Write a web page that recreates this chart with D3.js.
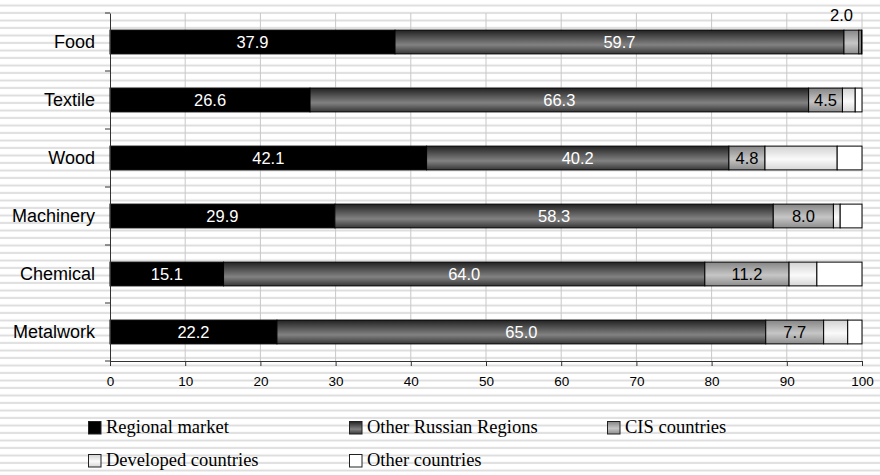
<!DOCTYPE html>
<html>
<head>
<meta charset="utf-8">
<script src="https://cdn.jsdelivr.net/npm/d3@7"></script>
<style>
  body { margin: 0; background: #fff; }
  svg { display: block; }
</style>
</head>
<body>
<div id="chart"></div>
<script>
// ---- data ----
const categories = ["Food", "Textile", "Wood", "Machinery", "Chemical", "Metalwork"];
const seriesNames = ["Regional market", "Other Russian Regions", "CIS countries", "Developed countries", "Other countries"];
const regional   = [37.9, 26.6, 42.1, 29.9, 15.1, 22.2];
const otherRus   = [59.7, 66.3, 40.2, 58.3, 64.0, 65.0];
const cis        = [2.0, 4.5, 4.8, 8.0, 11.2, 7.7];
const developed  = [0.3, 1.7, 9.6, 0.9, 3.7, 3.2];
const otherCtry  = [0.1, 0.9, 3.3, 2.9, 6.0, 1.9];
const xTicks = [0, 10, 20, 30, 40, 50, 60, 70, 80, 90, 100];

const W = 880, H = 475;
const margin = { top: 13, right: 18, bottom: 114, left: 110 };
const innerW = W - margin.left - margin.right;
const innerH = H - margin.top - margin.bottom;
const sans = "'Liberation Sans', Arial, sans-serif";

const svg = d3.select("#chart").append("svg")
  .attr("width", W)
  .attr("height", H);

const defs = svg.append("defs");

// striped background
const stripes = defs.append("pattern")
  .attr("id", "bg-stripes")
  .attr("patternUnits", "userSpaceOnUse")
  .attr("width", W)
  .attr("height", 7.5);
stripes.append("rect").attr("width", W).attr("height", 7.5).attr("fill", "#fff");
stripes.append("rect").attr("y", 4.5).attr("width", W).attr("height", 1.9).attr("fill", "#dcdcdc");

svg.append("rect").attr("width", W).attr("height", H).attr("fill", "url(#bg-stripes)");

// vertical gradients for the bar fills
function gradient(id, stops) {
  const g = defs.append("linearGradient")
    .attr("id", id)
    .attr("x1", 0).attr("y1", 0).attr("x2", 0).attr("y2", 1);
  stops.forEach(s => g.append("stop").attr("offset", s[0]).attr("stop-color", s[1]));
}
gradient("g-rus", [[0, "#222"], [0.62, "#828282"], [1, "#363636"]]);
gradient("g-cis", [[0, "#858585"], [0.55, "#c6c6c6"], [1, "#8c8c8c"]]);
gradient("g-dev", [[0, "#d2d2d2"], [0.55, "#fafafa"], [1, "#d6d6d6"]]);

const fills = ["#000", "url(#g-rus)", "url(#g-cis)", "url(#g-dev)", "#fff"];
const labelColors = ["#fff", "#fff", "#000", null, null];

const g = svg.append("g").attr("transform", `translate(${margin.left},${margin.top})`);

const x = d3.scaleLinear().domain([0, 100]).range([0, innerW]);
const y = d3.scaleBand().domain(categories).range([0, innerH]).padding(0);
const barH = y.bandwidth() * 0.41;

// gridlines
g.append("g")
  .selectAll("line")
  .data(xTicks.slice(1))
  .join("line")
  .attr("x1", d => x(d)).attr("x2", d => x(d))
  .attr("y1", 0).attr("y2", innerH)
  .attr("stroke", "#c8c8c8")
  .attr("stroke-width", 1);

// stacked data
const table = categories.map((c, i) => ({
  cat: c,
  values: [regional[i], otherRus[i], cis[i], developed[i], otherCtry[i]]
}));

table.forEach(row => {
  let cum = 0;
  const by = y(row.cat) + (y.bandwidth() - barH) / 2;
  row.values.forEach((v, k) => {
    const x0 = x(cum), x1 = x(cum + v);
    g.append("rect")
      .attr("x", x0)
      .attr("y", by)
      .attr("width", Math.max(0, x1 - x0))
      .attr("height", barH)
      .attr("fill", fills[k])
      .attr("stroke", "#000")
      .attr("stroke-width", 1);
    cum += v;
  });

  // value labels
  cum = 0;
  row.values.forEach((v, k) => {
    const x0 = x(cum), x1 = x(cum + v);
    cum += v;
    if (!labelColors[k]) return;
    if (x1 - x0 < 25) {
      // too narrow: put label above the bar
      g.append("text")
        .attr("x", x1 - 6)
        .attr("y", by - 9)
        .attr("text-anchor", "end")
        .attr("font-family", sans)
        .attr("font-size", "16.5px")
        .attr("fill", "#000")
        .text(v.toFixed(1));
      return;
    }
    g.append("text")
      .attr("x", (x0 + x1) / 2)
      .attr("y", by + barH / 2)
      .attr("dy", "0.36em")
      .attr("text-anchor", "middle")
      .attr("font-family", sans)
      .attr("font-size", "16.5px")
      .attr("fill", labelColors[k])
      .text(v.toFixed(1));
  });
});

// y axis
const yAxis = g.append("g")
  .call(d3.axisLeft(y).tickSize(0).tickPadding(15));
yAxis.select(".domain").attr("stroke", "#333");
yAxis.selectAll("text")
  .attr("font-family", sans)
  .attr("font-size", "18px")
  .attr("fill", "#000");
// Excel-style ticks on category boundaries
g.append("g")
  .selectAll("line")
  .data(categories.map(c => y(c)).concat([innerH]))
  .join("line")
  .attr("x1", -5).attr("x2", 0)
  .attr("y1", d => d).attr("y2", d => d)
  .attr("stroke", "#333");

// x axis
const xAxis = g.append("g")
  .attr("transform", `translate(0,${innerH})`)
  .call(d3.axisBottom(x).tickValues(xTicks).tickSize(5).tickPadding(10).tickFormat(d3.format("d")));
xAxis.select(".domain").attr("stroke", "#333");
xAxis.selectAll(".tick line").attr("stroke", "#333");
xAxis.selectAll("text")
  .attr("font-family", sans)
  .attr("font-size", "13.5px")
  .attr("fill", "#000");

// legend
const legendCols = [88, 349, 607];
const legendRows = [421, 454];
const legend = svg.append("g");
seriesNames.forEach((name, i) => {
  const lx = legendCols[i % 3], ly = legendRows[Math.floor(i / 3)];
  legend.append("rect")
    .attr("x", lx + 0.5).attr("y", ly + 0.5)
    .attr("width", 12.5).attr("height", 12.5)
    .attr("fill", fills[i])
    .attr("stroke", "#222")
    .attr("stroke-width", 1);
  legend.append("text")
    .attr("x", lx + 18)
    .attr("y", ly + 12)
    .attr("font-family", "'Liberation Serif', 'Times New Roman', serif")
    .attr("font-size", "18.5px")
    .attr("fill", "#000")
    .text(name);
});
</script>
</body>
</html>
